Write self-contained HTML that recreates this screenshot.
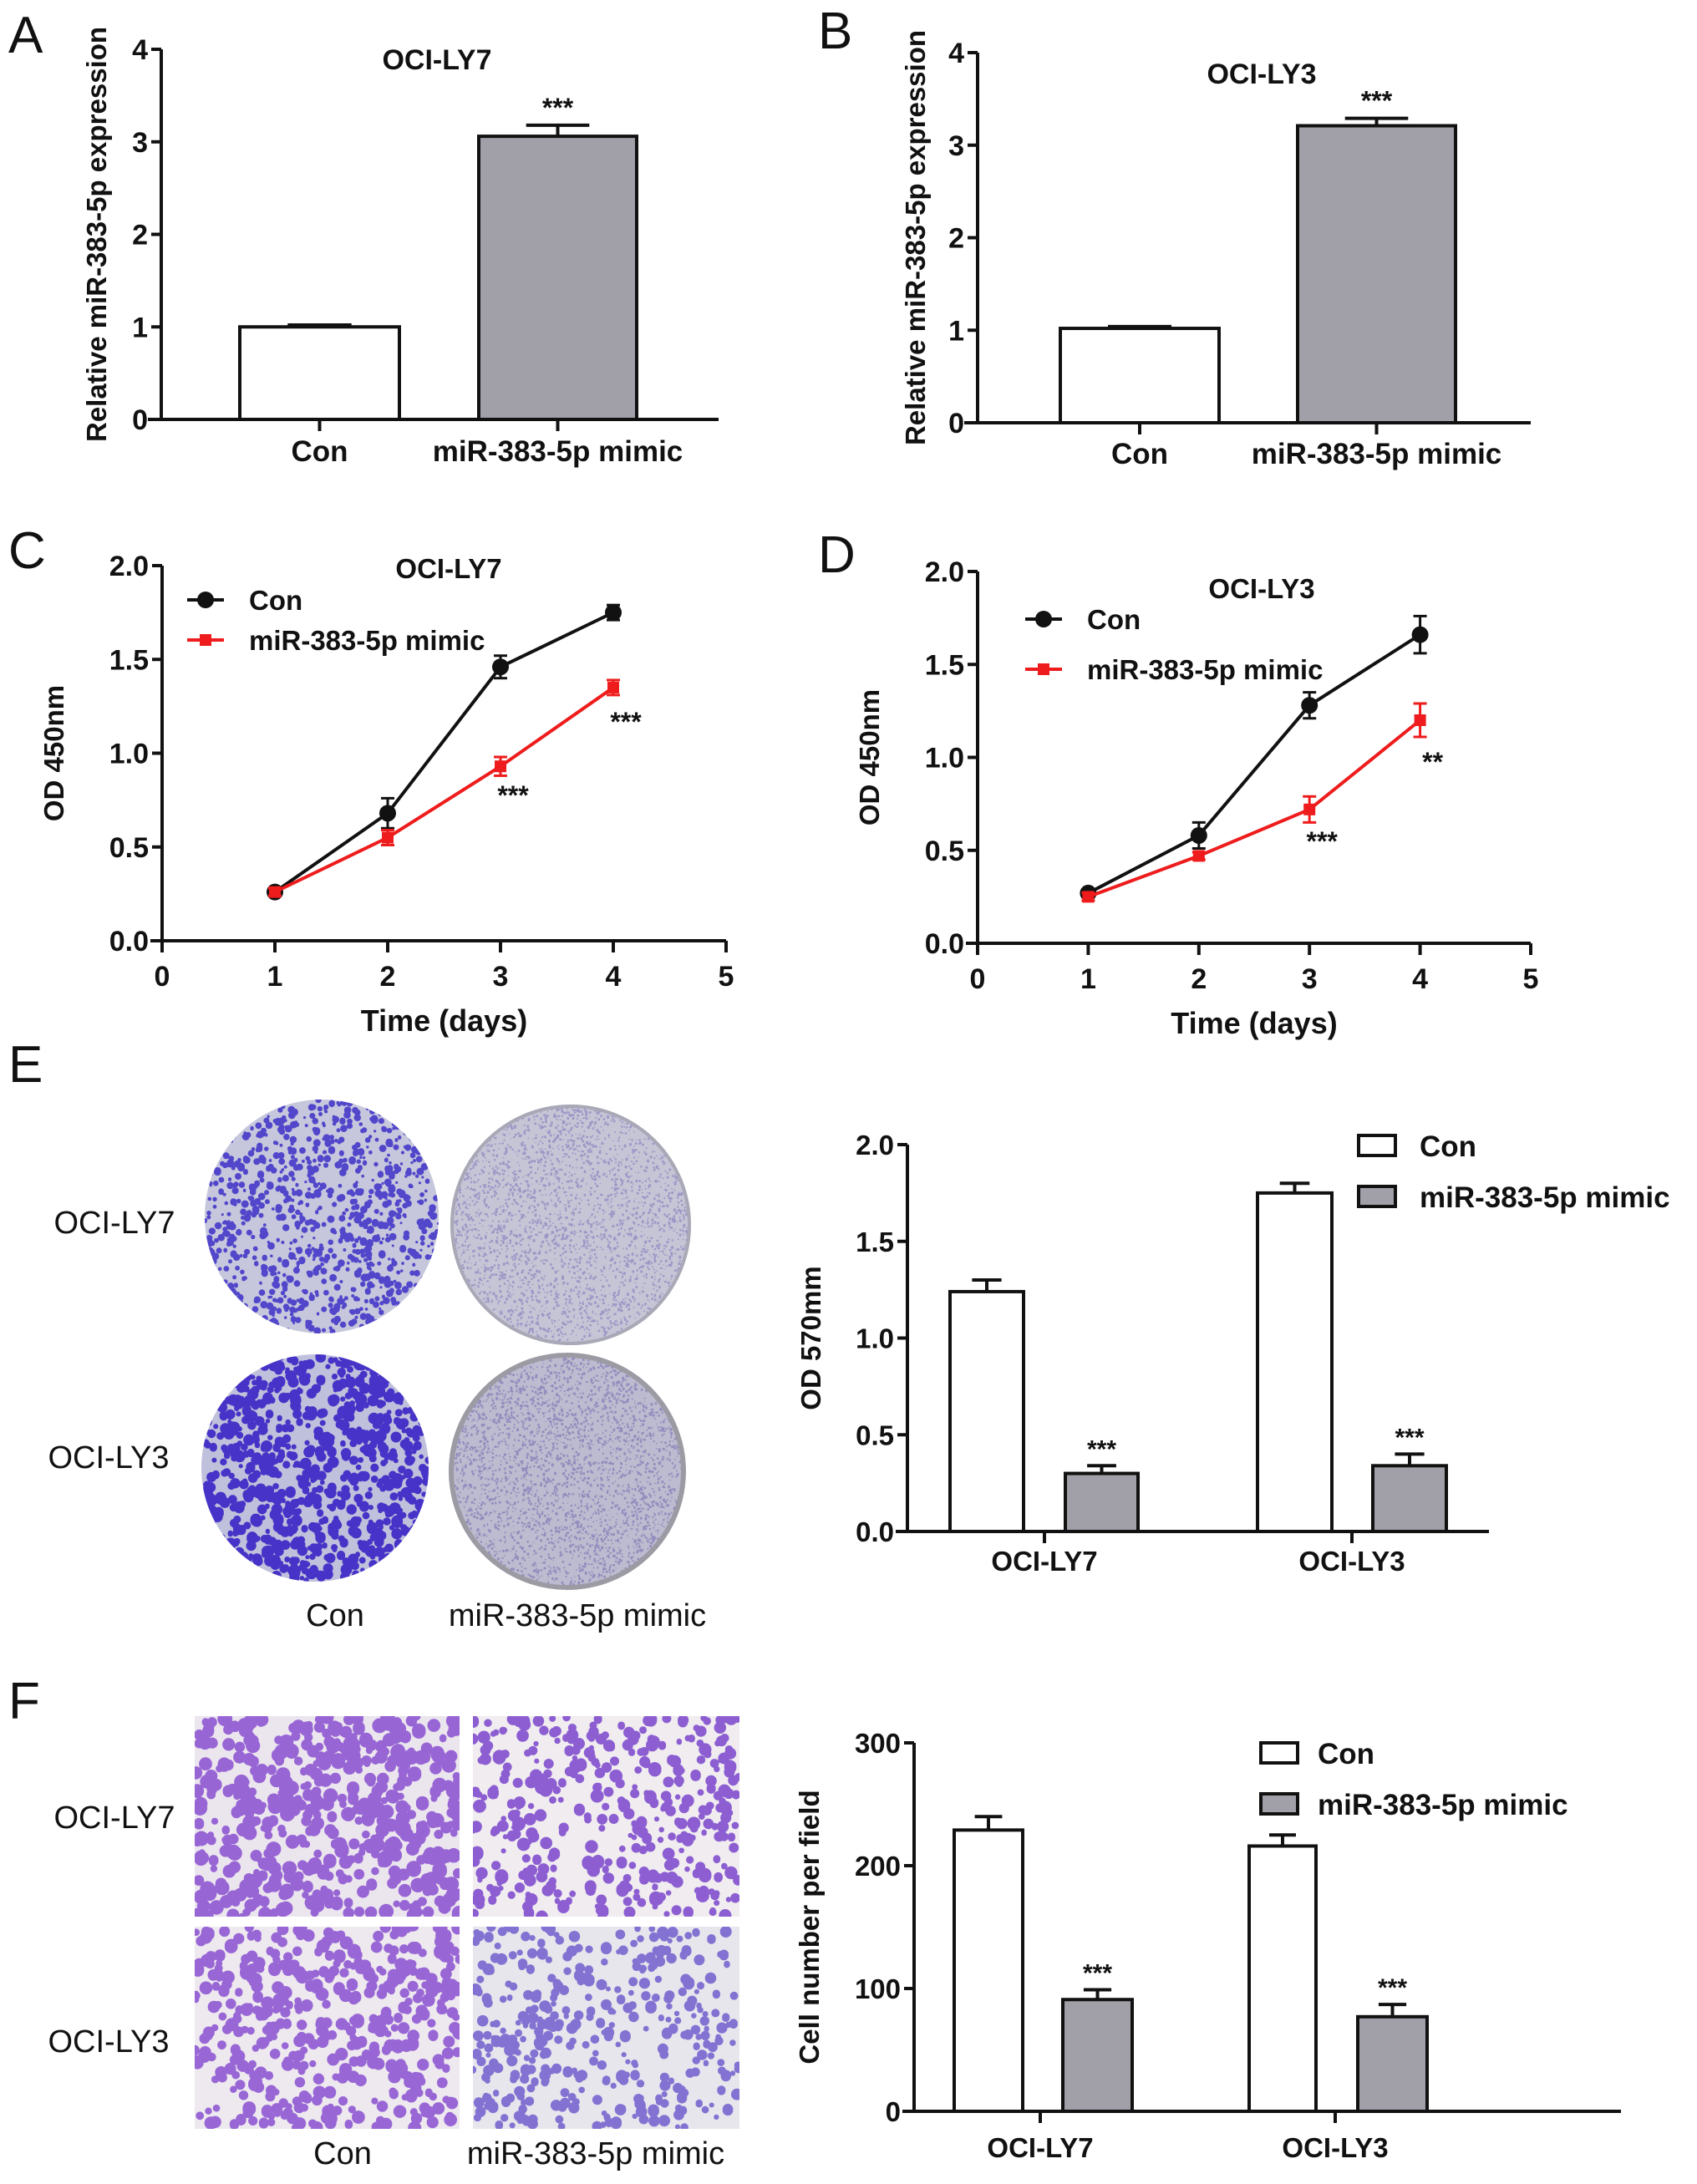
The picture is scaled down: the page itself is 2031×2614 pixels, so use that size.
<!DOCTYPE html>
<html><head><meta charset="utf-8">
<style>
html,body{margin:0;padding:0;background:#fff;}
svg{display:block;font-family:"Liberation Sans",Arial,sans-serif;font-weight:bold;}
</style></head>
<body>
<svg id="fig" width="2031" height="2614" viewBox="0 0 2031 2614" xmlns="http://www.w3.org/2000/svg">
<defs>
<clipPath id="cE1"><circle cx="385" cy="1456" r="140"/></clipPath>
<clipPath id="cE2"><circle cx="683" cy="1466" r="144"/></clipPath>
<clipPath id="cE3"><circle cx="377" cy="1757" r="136"/></clipPath>
<clipPath id="cE4"><circle cx="679" cy="1761" r="141"/></clipPath>
<clipPath id="cF1"><rect x="233" y="2054" width="317" height="240"/></clipPath>
<clipPath id="cF2"><rect x="566" y="2054" width="319" height="240"/></clipPath>
<clipPath id="cF3"><rect x="233" y="2306" width="317" height="242"/></clipPath>
<clipPath id="cF4"><rect x="566" y="2306" width="319" height="242"/></clipPath>
</defs>
<g id="root"></g>
</svg>
<script>
// ---- Data ----
const aCategories = ["Con", "miR-383-5p mimic"];
const aValues = [1.0, 3.06];
const aErrors = [0.02, 0.12];
const aTicks = ["0","1","2","3","4"];
const bValues = [1.02, 3.21];
const bErrors = [0.02, 0.08];
const days = [1, 2, 3, 4];
const cCon = [0.26, 0.68, 1.46, 1.75];
const cConErr = [0.02, 0.08, 0.06, 0.04];
const cMimic = [0.26, 0.55, 0.93, 1.35];
const cMimicErr = [0.02, 0.04, 0.05, 0.04];
const dCon = [0.27, 0.58, 1.28, 1.66];
const dConErr = [0.02, 0.07, 0.07, 0.10];
const dMimic = [0.25, 0.47, 0.72, 1.20];
const dMimicErr = [0.02, 0.02, 0.07, 0.09];
const lineXTicks = ["0","1","2","3","4","5"];
const odTicks = ["0.0","0.5","1.0","1.5","2.0"];
const groupCats = ["OCI-LY7", "OCI-LY3"];
const eCon = [1.24, 1.75];
const eConErr = [0.06, 0.05];
const eMimic = [0.30, 0.34];
const eMimicErr = [0.04, 0.06];
const fCon = [229, 216];
const fConErr = [11, 9];
const fMimic = [91, 77];
const fMimicErr = [8, 10];
const fTicks = ["0","100","200","300"];

const NS = "http://www.w3.org/2000/svg";
const root = document.getElementById("root");
function el(tag, attrs, parent, text){
  const e = document.createElementNS(NS, tag);
  for (const k in attrs) e.setAttribute(k, attrs[k]);
  if (text !== undefined) e.textContent = text;
  (parent || root).appendChild(e);
  return e;
}
function grp(name){ const g = el("g", {});   return g; }
function txt(g, x, y, s, size, anchor, name, extra){
  const t = el("text", Object.assign({x:x, y:y, "font-size":size, "text-anchor":anchor||"middle", fill:"#111"}, extra||{}), g, s);
  
  
  return t;
}
function line(g, x1,y1,x2,y2,w,c){ return el("line",{x1:x1,y1:y1,x2:x2,y2:y2,stroke:c||"#111","stroke-width":w||4},g); }

function yAxis(g, x, y0, y1, ticks, vmax, titleX, title, tickSize){
  line(g, x, y0+2, x, y1, 4);
  ticks.forEach((t,i)=>{
    const v = parseFloat(t);
    const y = y0 - (y0-y1)*v/vmax;
    line(g, x-12, y, x, y, 4);
    txt(g, x-16, y+12, t, tickSize||34, "end", "y-tick-label");
  });
  const cy = (y0+y1)/2;
  txt(g, titleX, cy, title, 33, "middle", "y-axis-title", {transform:`rotate(-90 ${titleX} ${cy})`});
}

function barPanel(name, letter, lx, ly, axX, axEnd, y0, y4, bars, vals, errs, title, titleX, titleY, ytitleX, labY){
  const g = grp(name);
  txt(g, lx, ly, letter, 62, "start", "panel-label", {"font-weight":"normal"});
  const sy = v => y0 - (y0-y4)*v/4;
  txt(g, titleX, titleY, title, 34, "middle", "chart-title");
  yAxis(g, axX, y0, y4, aTicks, 4, ytitleX, "Relative miR-383-5p expression", 34);
  vals.forEach((v,i)=>{
    const [x1,x2] = bars[i];
    const cx = (x1+x2)/2;
    const eTop = sy(v+errs[i]);
    line(g, cx, sy(v), cx, eTop, 4);
    line(g, cx-(x2-x1)*0.2, eTop, cx+(x2-x1)*0.2, eTop, 4);
    const r = el("rect",{x:x1,y:sy(v),width:x2-x1,height:y0-sy(v),fill:i==0?"#fff":"#a1a0a8",stroke:"#111","stroke-width":4},g);
    
    
    line(g, cx, y0, cx, y0+14, 4);
    txt(g, cx, labY, aCategories[i], 35, "middle", "x-category-label");
    if (i==1) txt(g, cx, eTop-10, "***", 32, "middle", "significance-mark");
  });
  line(g, axX-16, y0, axEnd, y0, 4);
}
barPanel("panel-a","A",10,63,193,860,502,59,[[287,478],[573,762]],aValues,aErrors,"OCI-LY7",523,83,127,552);
barPanel("panel-b","B",979,58,1170,1832,506,63,[[1269,1459],[1553,1742]],bValues,bErrors,"OCI-LY3",1510,100,1107,555);

function linePanel(name, letter, lx, ly, axX, axEnd, y0, y2, con, conErr, mim, mimErr, title, tX, tY, legX, legY1, legY2, stars){
  const g = grp(name);
  txt(g, lx, ly, letter, 62, "start", "panel-label", {"font-weight":"normal"});
  const sx = d => axX + (axEnd-axX)*d/5;
  const sy = v => y0 - (y0-y2)*v/2;
  yAxis(g, axX, y0, y2, odTicks, 2, axX-118, "OD 450nm", 34);
  line(g, axX-14, y0, axEnd, y0, 4);
  lineXTicks.forEach((t,i)=>{
    line(g, sx(i), y0, sx(i), y0+14, 4);
    txt(g, sx(i), y0+54, t, 34, "middle", "x-tick-label");
  });
  txt(g, (axX+axEnd)/2, y0+108, "Time (days)", 36, "middle", "x-axis-title");
  txt(g, tX, tY, title, 33, "middle", "chart-title");
  [[con,conErr,"#111","con"],[mim,mimErr,"#ee1c1c","mimic"]].forEach(([vals,errs,col,nm])=>{
    const pts = days.map((d,i)=>sx(d)+","+sy(vals[i])).join(" ");
    const pl = el("polyline",{points:pts,fill:"none",stroke:col,"stroke-width":4},g);
    
    
    days.forEach((d,i)=>{
      const x=sx(d), y=sy(vals[i]), e1=sy(vals[i]+errs[i]), e2=sy(vals[i]-errs[i]);
      line(g,x,e1,x,e2,3,col); line(g,x-8,e1,x+8,e1,3,col); line(g,x-8,e2,x+8,e2,3,col);
      let m;
      if (nm=="con") m = el("circle",{cx:x,cy:y,r:10,fill:col},g);
      else m = el("rect",{x:x-7,y:y-7,width:14,height:14,fill:col},g);
      
      
    });
  });
  stars.forEach(([d,y,s])=>txt(g, sx(d)+15, y, s, 32, "middle", "significance-mark"));
  const lg = grp("legend");
  g.appendChild(lg);
  line(lg, legX-22, legY1, legX+22, legY1, 4, "#111");
  el("circle",{cx:legX,cy:legY1,r:10,fill:"#111"},lg);
  txt(lg, legX+52, legY1+12, "Con", 33, "start", "legend-entry-con");
  line(lg, legX-22, legY2, legX+22, legY2, 4, "#ee1c1c");
  el("rect",{x:legX-7,y:legY2-7,width:14,height:14,fill:"#ee1c1c"},lg);
  txt(lg, legX+52, legY2+12, "miR-383-5p mimic", 33, "start", "legend-entry-mimic");
}
linePanel("panel-c","C",10,680,194,869,1126,677,cCon,cConErr,cMimic,cMimicErr,"OCI-LY7",537,692,246,718,766,[[3,963,"***"],[4,875,"***"]]);
linePanel("panel-d","D",979,685,1170,1832,1129,684,dCon,dConErr,dMimic,dMimicErr,"OCI-LY3",1510,716,1249,741,801,[[3,1018,"***"],[4,923,"**"]]);

function groupPanel(name, axX, axEnd, y0, yTop, vmax, ticks, title, titleX, bars, con, conErr, mim, mimErr, catX, labY, legBoxX, legY1, legY2, legTextX){
  const g = grp(name);
  const sy = v => y0 - (y0-yTop)*v/vmax;
  yAxis(g, axX, y0, yTop, ticks, vmax, titleX, title, 33);
  const series = [[con,conErr,"#fff","con"],[mim,mimErr,"#a1a0a8","mimic"]];
  groupCats.forEach((c,ci)=>{
    series.forEach(([vals,errs,fill,nm],si)=>{
      const [x1,x2] = bars[ci*2+si];
      const cx=(x1+x2)/2, v=vals[ci], eTop=sy(v+errs[ci]);
      line(g,cx,sy(v),cx,eTop,4);
      line(g,cx-(x2-x1)*0.2,eTop,cx+(x2-x1)*0.2,eTop,4);
      const r = el("rect",{x:x1,y:sy(v),width:x2-x1,height:y0-sy(v),fill:fill,stroke:"#111","stroke-width":4},g);
      
      
      if (si==1) txt(g, cx, eTop-10, "***", 30, "middle", "significance-mark");
    });
    line(g, catX[ci], y0, catX[ci], y0+14, 4);
    txt(g, catX[ci], labY, c, 33, "middle", "x-category-label");
  });
  line(g, axX-14, y0, axEnd, y0, 4);
  const lg = grp("legend"); g.appendChild(lg);
  el("rect",{x:legBoxX,y:legY1-12,width:44,height:24,fill:"#fff",stroke:"#111","stroke-width":4},lg);
  txt(lg, legTextX, legY1+13, "Con", 35, "start", "legend-entry-con");
  el("rect",{x:legBoxX,y:legY2-12,width:44,height:24,fill:"#a1a0a8",stroke:"#111","stroke-width":4},lg);
  txt(lg, legTextX, legY2+13, "miR-383-5p mimic", 35, "start", "legend-entry-mimic");
}
groupPanel("panel-e-chart",1086,1782,1833,1370,2,odTicks,"OD 570mm",982,
  [[1137,1225],[1275,1362],[1505,1594],[1643,1731]],eCon,eConErr,eMimic,eMimicErr,[1250,1618],1880,1626,1371,1432,1699);
groupPanel("panel-f-chart",1094,1940,2527,2086,300,fTicks,"Cell number per field",980,
  [[1142,1224],[1272,1355],[1495,1575],[1625,1708]],fCon,fConErr,fMimic,fMimicErr,[1245,1598],2582,1509,2098,2159,1577);

// ---- Photographs (decorative texture) ----
let seed = 12345;
function rnd(){ seed = (seed*1103515245 + 12345) % 2147483648; return seed/2147483648; }
function texture(g, clip, x, y, w, h, bg, dot, n, rmin, rmax, opacity){
  const tg = el("g",{"clip-path":`url(#${clip})`},g);
  el("rect",{x:x,y:y,width:w,height:h,fill:bg},tg);
  let s = "";
  for (let i=0;i<n;i++){
    const px = x+rnd()*w, py = y+rnd()*h, r = rmin+rnd()*(rmax-rmin);
    s += `M${(px-r).toFixed(1)} ${py.toFixed(1)}a${r.toFixed(1)} ${r.toFixed(1)} 0 1 0 ${(2*r).toFixed(1)} 0a${r.toFixed(1)} ${r.toFixed(1)} 0 1 0 ${(-2*r).toFixed(1)} 0`;
  }
  el("path",{d:s,fill:dot,"fill-opacity":opacity},tg);
}
const pe = grp("panel-e-photos");
txt(pe, 10, 1295, "E", 62, "start", "panel-label", {"font-weight":"normal"});
const ph1 = grp("photo-ly7-con"); pe.appendChild(ph1);
texture(ph1,"cE1",245,1316,280,280,"#c6c7dc","#3d2fc8",1100,1.5,4.5,0.85);
const ph2 = grp("photo-ly7-mimic"); pe.appendChild(ph2);
texture(ph2,"cE2",539,1322,288,288,"#c6c5d6","#6b62b4",3500,0.7,1.6,0.45);
el("circle",{cx:683,cy:1466,r:142,fill:"none",stroke:"#a9a8b6","stroke-width":4},ph2);
const ph3 = grp("photo-ly3-con"); pe.appendChild(ph3);
texture(ph3,"cE3",241,1621,272,272,"#bfc0dc","#3a24c4",900,2.5,7,0.9);
const ph4 = grp("photo-ly3-mimic"); pe.appendChild(ph4);
texture(ph4,"cE4",538,1620,282,282,"#bcbbcf","#5f57a8",3800,0.7,1.6,0.45);
el("circle",{cx:679,cy:1761,r:139,fill:"none",stroke:"#9c9ba4","stroke-width":6},ph4);
txt(pe, 137, 1476, "OCI-LY7", 38, "middle", "row-label", {"font-weight":"normal"});
txt(pe, 130, 1757, "OCI-LY3", 38, "middle", "row-label", {"font-weight":"normal"});
txt(pe, 401, 1946, "Con", 38, "middle", "column-label", {"font-weight":"normal"});
txt(pe, 691, 1946, "miR-383-5p mimic", 38, "middle", "column-label", {"font-weight":"normal"});

const pf = grp("panel-f-photos");
txt(pf, 10, 2057, "F", 62, "start", "panel-label", {"font-weight":"normal"});
const f1 = grp("photo-ly7-con"); pf.appendChild(f1);
texture(f1,"cF1",233,2054,317,240,"#ebe5ee","#8a4fd0",520,4,9,0.85);
const f2 = grp("photo-ly7-mimic"); pf.appendChild(f2);
texture(f2,"cF2",566,2054,319,240,"#f0ecef","#7a45cc",380,3,8,0.85);
const f3 = grp("photo-ly3-con"); pf.appendChild(f3);
texture(f3,"cF3",233,2306,317,242,"#eee8ef","#8850d0",450,4,8,0.85);
const f4 = grp("photo-ly3-mimic"); pf.appendChild(f4);
texture(f4,"cF4",566,2306,319,242,"#e6e6ec","#6a55cc",380,3,7,0.8);
txt(pf, 137, 2188, "OCI-LY7", 38, "middle", "row-label", {"font-weight":"normal"});
txt(pf, 130, 2456, "OCI-LY3", 38, "middle", "row-label", {"font-weight":"normal"});
txt(pf, 410, 2590, "Con", 38, "middle", "column-label", {"font-weight":"normal"});
txt(pf, 713, 2590, "miR-383-5p mimic", 38, "middle", "column-label", {"font-weight":"normal"});
</script>
</body></html>
